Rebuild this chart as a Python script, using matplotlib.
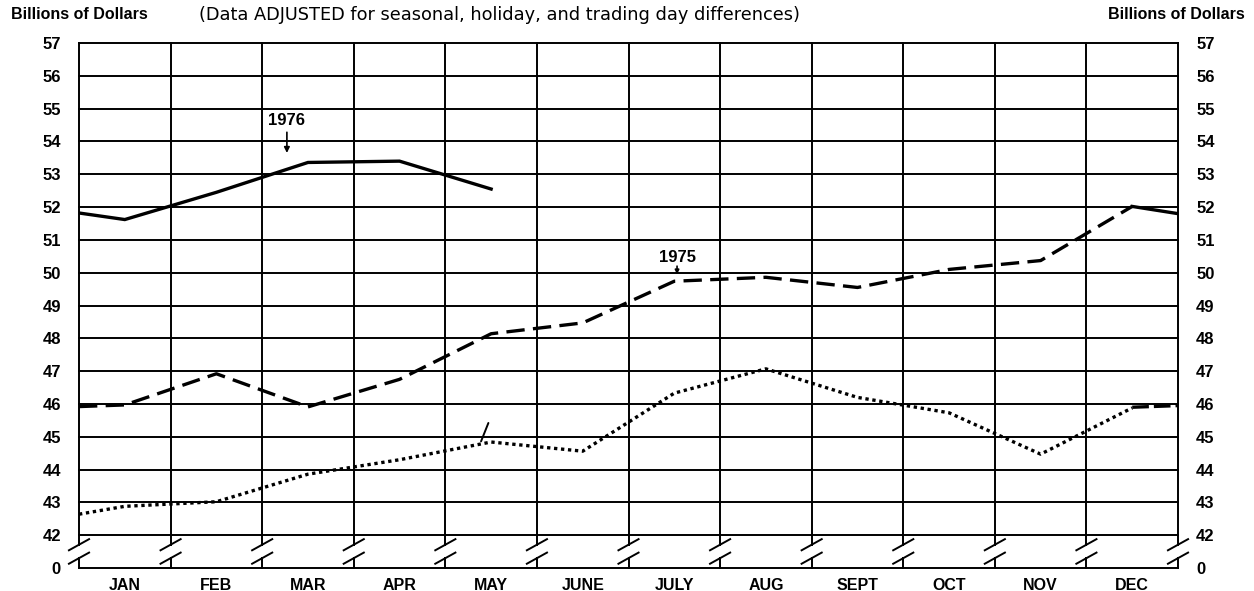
import numpy as np
import matplotlib
matplotlib.use("Agg")
import matplotlib.pyplot as plt

plt.rcParams['font.family'] = ['Liberation Sans', 'DejaVu Sans']

months = ["JAN", "FEB", "MAR", "APR", "MAY", "JUNE", "JULY", "AUG", "SEPT", "OCT", "NOV", "DEC"]
ytick_vals = list(range(42, 58))
ytick_labels = [str(v) for v in ytick_vals]

# month positions (0 = JAN ... 11 = DEC), -0.5 / 11.5 are the chart edges
x_1976 = [-0.5, 0, 1, 2, 3, 4]
y_1976 = [51.82, 51.62, 52.45, 53.36, 53.40, 52.55]
x_1976_head = [11, 11.5]          # Dec 1975 -> Jan 1976 link at right edge
y_1976_head = [52.02, 51.80]

x_1975 = [-0.5, 0, 1, 2, 3, 4, 5, 6, 7, 8, 9, 10, 11]
y_1975 = [45.92, 45.97, 46.92, 45.91, 46.75, 48.14, 48.47, 49.74, 49.86, 49.55, 50.10, 50.37, 52.02]
x_1975_head = [11, 11.5]          # Dec 1974 -> Jan 1975 link at right edge
y_1975_head = [45.90, 45.95]

x_1974 = [-0.5, 0, 1, 2, 3, 4, 5, 6, 7, 8, 9, 10, 11]
y_1974 = [42.64, 42.88, 43.02, 43.86, 44.30, 44.84, 44.56, 46.33, 47.07, 46.20, 45.73, 44.47, 45.88]

fig = plt.figure(figsize=(12.54, 5.91), dpi=100)
ax = fig.add_axes([0.063, 0.0389, 0.8764, 0.8883])
ax.set_xlim(-0.5, 11.5)
ax.set_ylim(41, 57)
for s in ax.spines.values():
    s.set_visible(False)

gc = 'black'
glw = 1.4
# horizontal grid lines
for v in ytick_vals + [41]:
    ax.plot([-0.5, 11.5], [v, v], color=gc, lw=glw, zorder=1, solid_capstyle='projecting', clip_on=False)

# vertical lines with axis break between 0 and 42
vx = np.arange(-0.5, 12, 1.0)
for xv in vx:
    ax.plot([xv, xv], [41.7, 57], color=gc, lw=glw, zorder=1, clip_on=False)
    ax.plot([xv, xv], [41, 41.32], color=gc, lw=glw, zorder=1, clip_on=False)
    for yc in (41.30, 41.71):
        ax.plot([xv - 0.11, xv + 0.11], [yc - 0.17, yc + 0.17], color=gc, lw=1.4,
                zorder=1, clip_on=False)

lw = 2.4
ax.plot(x_1976, y_1976, color='black', lw=lw, zorder=3, solid_joinstyle='miter')
ax.plot(x_1976_head, y_1976_head, color='black', lw=lw, zorder=3)
ax.plot(x_1975, y_1975, color='black', lw=lw, ls=(0, (5.5, 2.5)), zorder=3)
ax.plot(x_1975_head, y_1975_head, color='black', lw=lw, ls=(0, (5, 1.5)), zorder=3)
ax.plot(x_1974, y_1974, color='black', lw=lw, ls=(0, (1, 1.1)), zorder=3)

# labels
ax.text(1.77, 54.65, "1976", ha='center', va='center', fontsize=12, fontweight='bold')
ax.annotate("", xy=(1.77, 53.65), xytext=(1.77, 54.28),
            arrowprops=dict(arrowstyle='-|>', color='black', lw=1.2, mutation_scale=8,
                            shrinkA=0, shrinkB=0))
ax.text(6.03, 50.45, "1975", ha='center', va='center', fontsize=12, fontweight='bold')
ax.annotate("", xy=(6.03, 49.95), xytext=(6.03, 50.2),
            arrowprops=dict(arrowstyle='-|>', color='black', lw=1.2, mutation_scale=6,
                            shrinkA=0, shrinkB=0))
ax.annotate("", xy=(3.89, 44.86), xytext=(3.97, 45.42),
            arrowprops=dict(arrowstyle='-', color='black', lw=1.4, shrinkA=0, shrinkB=0))

ax.set_xticks(range(12))
ax.set_xticklabels(months, fontsize=11.5, fontweight='bold')
ax.set_yticks([41] + ytick_vals)
ax.set_yticklabels(["0"] + ytick_labels, fontsize=12, fontweight='bold')
ax.tick_params(axis='x', length=0, pad=7)
ax.tick_params(axis='y', length=0, pad=13, labelleft=True, labelright=True)

fig.text(0.009, 0.975, "Billions of Dollars", fontsize=11.5, fontweight='bold', ha='left', va='center')
fig.text(0.993, 0.975, "Billions of Dollars", fontsize=11.5, fontweight='bold', ha='right', va='center')
fig.text(0.398, 0.975, "(Data ADJUSTED for seasonal, holiday, and trading day differences)",
         fontsize=12.8, ha='center', va='center', family=['DejaVu Sans'])

fig.savefig("out.png", dpi=100)
